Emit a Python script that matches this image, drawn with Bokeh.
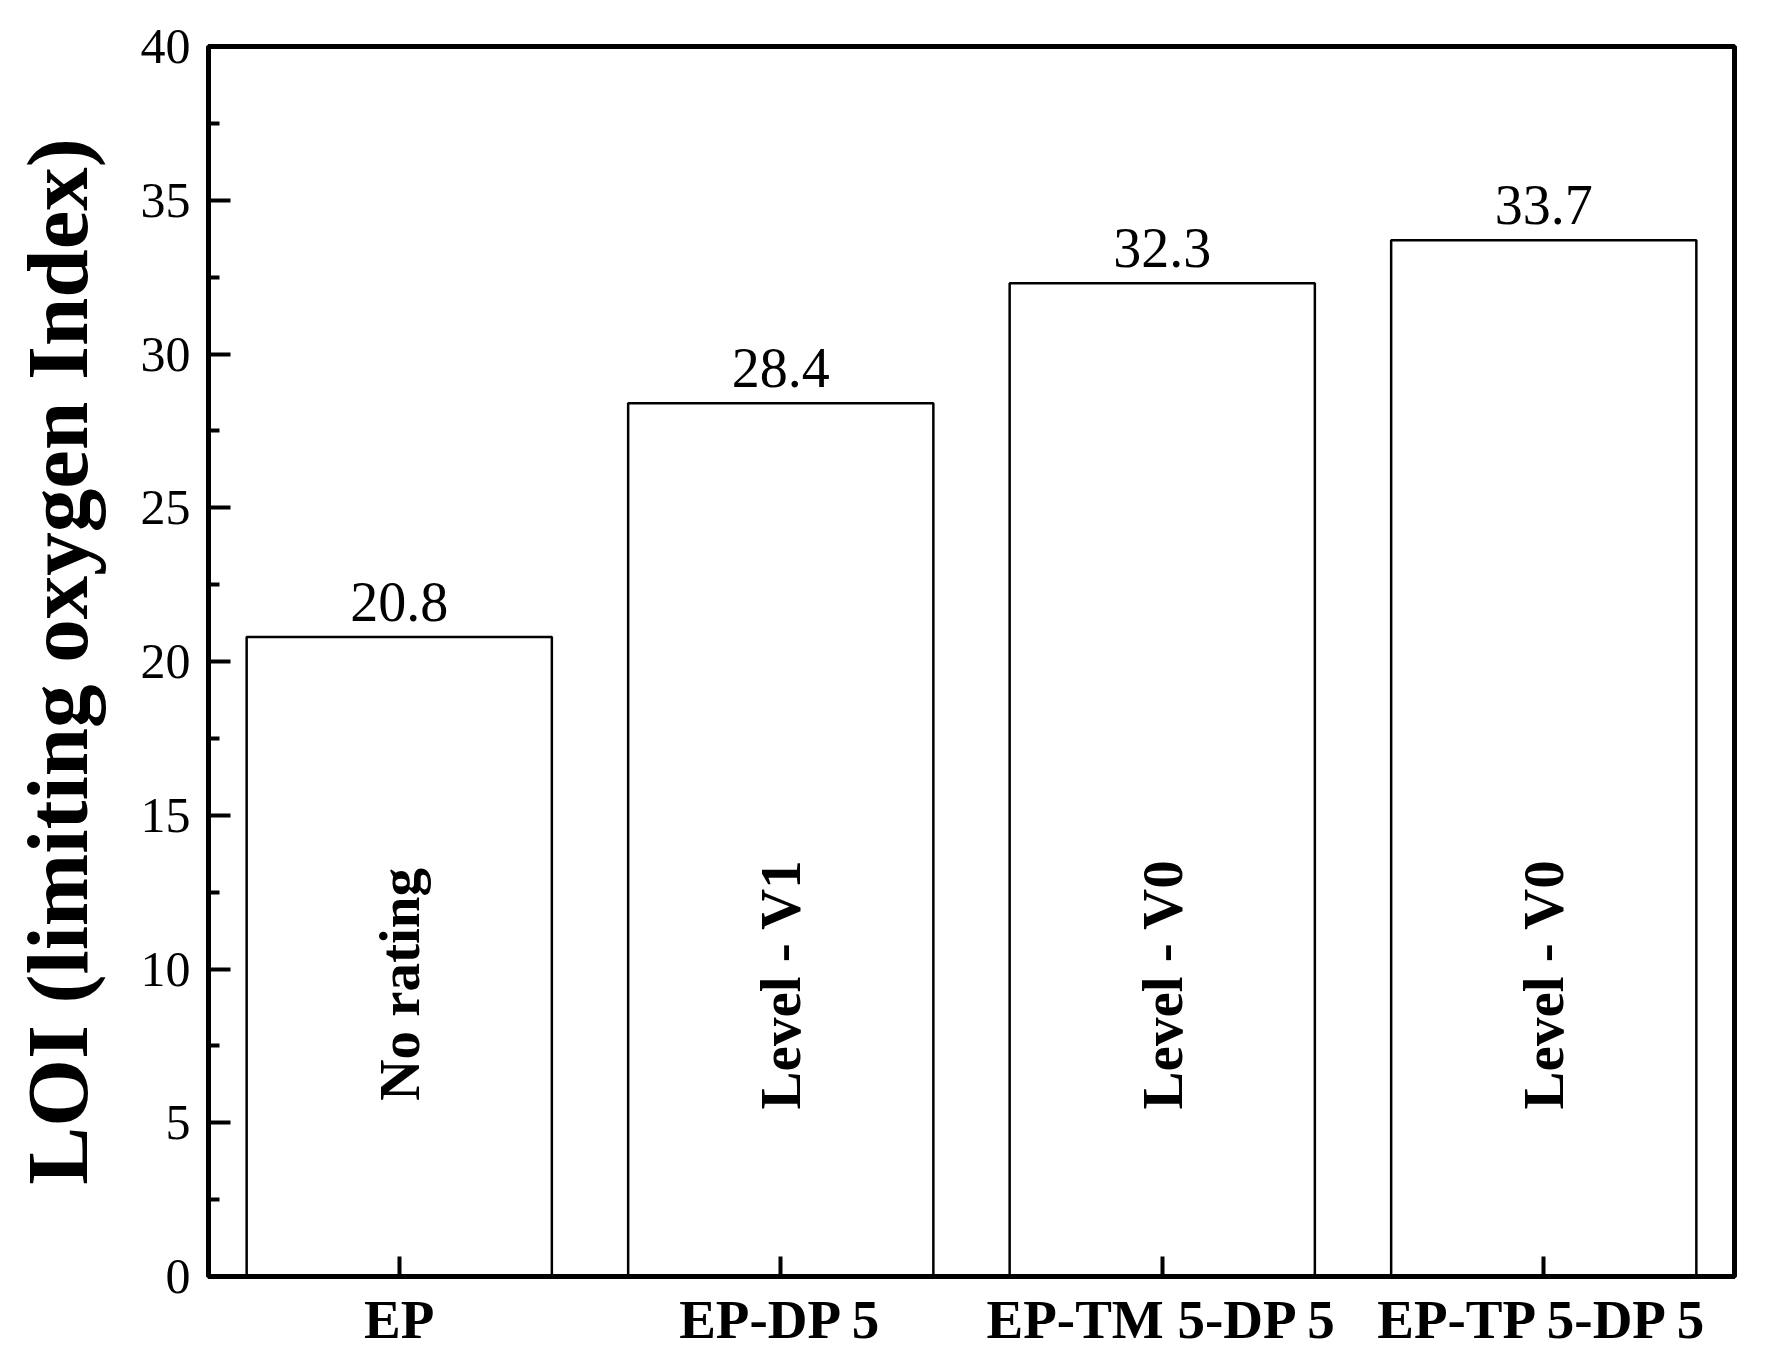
import math
from bokeh.plotting import figure
from bokeh.models import ColumnDataSource, FactorRange, Range1d, FixedTicker
from bokeh.core.properties import value
from bokeh.embed import file_html
from bokeh.resources import INLINE

categories = ["EP", "EP-DP 5", "EP-TM 5-DP 5", "EP-TP 5-DP 5"]
loi_values = [20.8, 28.4, 32.3, 33.7]
value_labels = ["20.8", "28.4", "32.3", "33.7"]
ul94_ratings = ["No rating", "Level - V1", "Level - V0", "Level - V0"]
y_ticks = [0, 5, 10, 15, 20, 25, 30, 35, 40]
rating_y = 9.5

FONT = "Liberation Serif"

src = ColumnDataSource(dict(
    cat=categories,
    val=loi_values,
    vlab=value_labels,
    rating=ul94_ratings,
    ry=[rating_y] * len(categories),
))

p = figure(
    x_range=FactorRange(*categories),
    y_range=Range1d(0, 40),
    width=1758, height=1363,
    output_backend="svg", toolbar_location=None,
    min_border_left=208, min_border_right=24,
    min_border_top=46, min_border_bottom=87,
)

p.vbar(x="cat", top="val", width=0.8, bottom=0, source=src,
       fill_color="white", line_color="black", line_width=2.5)

p.text(x="cat", y="val", text="vlab", source=src,
       text_align="center", text_baseline="bottom", y_offset=-16,
       text_font=value(FONT), text_font_size="56px", text_color="black")

p.text(x="cat", y="ry", text="rating", source=src, angle=math.pi / 2,
       text_align="center", text_baseline="middle",
       text_font=value(FONT), text_font_size="57px", text_font_style="bold",
       text_color="black")

p.grid.visible = False
p.outline_line_color = "black"
p.outline_line_width = 5
p.background_fill_color = "white"
p.border_fill_color = "white"

# y axis
ya = p.yaxis[0]
ya.ticker = FixedTicker(ticks=y_ticks, minor_ticks=[2.5 + 5 * i for i in range(8)])
ya.axis_line_width = 5
ya.axis_line_color = "black"
ya.major_tick_in = 22
ya.major_tick_out = 0
ya.major_tick_line_width = 4
ya.major_tick_line_color = "black"
ya.minor_tick_in = 11
ya.minor_tick_out = 0
ya.minor_tick_line_width = 4
ya.minor_tick_line_color = "black"
ya.major_label_text_font = FONT
ya.major_label_text_font_size = "50px"
ya.major_label_text_color = "black"
ya.major_label_standoff = 18
ya.axis_label = "LOI (limiting oxygen Index)"
ya.axis_label_text_font = FONT
ya.axis_label_text_font_size = "87px"
ya.axis_label_text_font_style = "bold"
ya.axis_label_text_color = "black"
ya.axis_label_standoff = 32

# x axis
xa = p.xaxis[0]
xa.axis_line_width = 5
xa.axis_line_color = "black"
xa.major_tick_in = 20
xa.major_tick_out = 0
xa.major_tick_line_width = 4
xa.major_tick_line_color = "black"
xa.minor_tick_in = 0
xa.minor_tick_out = 0
xa.major_label_text_font = FONT
xa.major_label_text_font_size = "55px"
xa.major_label_text_font_style = "bold"
xa.major_label_text_color = "black"
xa.major_label_standoff = 12
xa.major_label_orientation = "horizontal"

open("out.html", "w").write(file_html(p, INLINE))
